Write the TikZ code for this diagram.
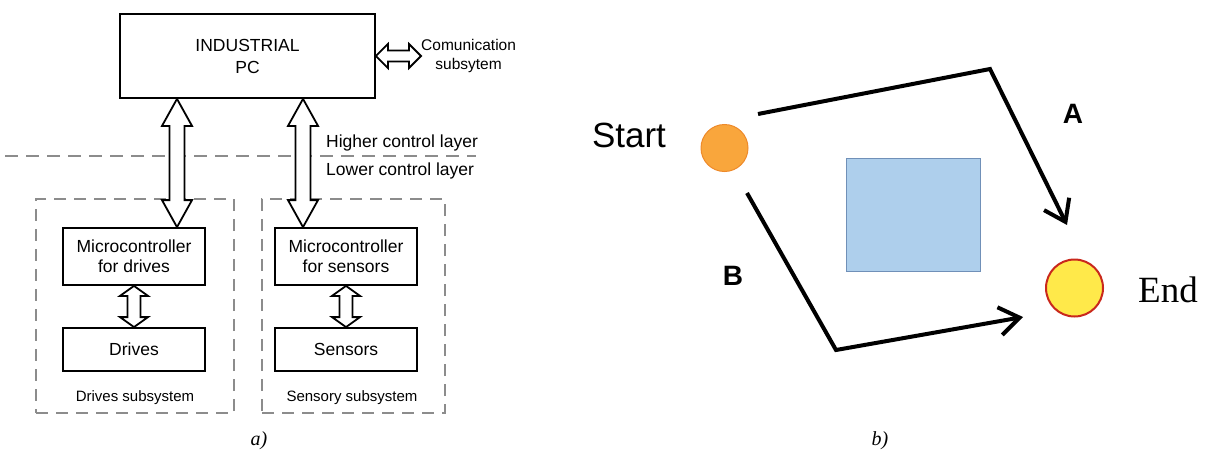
\documentclass[tikz,border=0pt]{standalone}
\usepackage{fontspec}
\setmainfont{Liberation Sans}
\newfontfamily\capfont{Liberation Serif}
\usetikzlibrary{calc,arrows.meta}

\definecolor{dashgray}{HTML}{8C8C8C}
\definecolor{startfill}{HTML}{F9A63C}
\definecolor{startdraw}{HTML}{EE8A2A}
\definecolor{endfill}{HTML}{FFE94A}
\definecolor{enddraw}{HTML}{C9281C}
\definecolor{obsfill}{HTML}{AECFEC}
\definecolor{obsdraw}{HTML}{7090B8}

% hollow double-headed block arrow, vertical: top point, bottom point,
% half shaft width, half head width, head length
\newcommand{\vblock}[5]{%
  \path[blockarrow] let \p1=(#1), \p2=(#2) in
    (\x1,\y1) -- ({\x1+#4},{\y1-#5}) -- ({\x1+#3},{\y1-#5})
    -- ({\x1+#3},{\y2+#5}) -- ({\x1+#4},{\y2+#5}) -- (\x1,\y2)
    -- ({\x1-#4},{\y2+#5}) -- ({\x1-#3},{\y2+#5})
    -- ({\x1-#3},{\y1-#5}) -- ({\x1-#4},{\y1-#5}) -- cycle;}
% the same, horizontal: left point, right point
\newcommand{\hblock}[5]{%
  \path[blockarrow] let \p1=(#1), \p2=(#2) in
    (\x1,\y1) -- ({\x1+#5},{\y1+#4}) -- ({\x1+#5},{\y1+#3})
    -- ({\x2-#5},{\y1+#3}) -- ({\x2-#5},{\y1+#4}) -- (\x2,\y1)
    -- ({\x2-#5},{\y1-#4}) -- ({\x2-#5},{\y1-#3})
    -- ({\x1+#5},{\y1-#3}) -- ({\x1+#5},{\y1-#4}) -- cycle;}

\tikzset{
  box/.style={draw, line width=1.8pt, minimum width=142pt, minimum height=57pt,
    inner sep=0pt, align=center, font=\fontsize{17.5}{20}\selectfont},
  subsys/.style={draw=dashgray, dash pattern=on 12pt off 8pt, line width=1.3pt,
    inner sep=0pt},
  blockarrow/.style={draw, line width=1.8pt, fill=white, line join=miter},
  plain/.style={inner sep=0pt, font=\fontsize{17.5}{20}\selectfont},
  small/.style={inner sep=0pt, font=\fontsize{15}{19}\selectfont, align=center},
  caption/.style={inner sep=0pt, font=\capfont\itshape\fontsize{20}{22}\selectfont},
  route/.style={line width=4pt, line join=miter,
    -{Straight Barb[length=20pt, width=28pt]}},
  spot/.style={circle, inner sep=0pt},
  bigsans/.style={inner sep=0pt, font=\fontsize{35}{40}\selectfont},
  bigbold/.style={inner sep=0pt, font=\bfseries\fontsize{28}{32}\selectfont}
}

\begin{document}
\begin{tikzpicture}[x=1pt, y=-1pt]
\useasboundingbox (0,0) rectangle (1205,450);

% ---------- control architecture ----------
\node[box, minimum width=255pt, minimum height=84pt,
      font=\fontsize{17.5}{22}\selectfont] (pc) at (247.5,56) {INDUSTRIAL\\PC};

\node[subsys, minimum width=198pt, minimum height=214pt] (dsub) at (135,306) {};
\node[subsys, minimum width=183pt, minimum height=214pt] (ssub) at (353.5,306) {};

\node[box] (mcd) at (134,256.5) {Microcontroller\\for drives};
\node[box, minimum height=43pt] (drv) at (134,349.5) {Drives};
\node[box] (mcs) at (346,256.5) {Microcontroller\\for sensors};
\node[box, minimum height=43pt] (sen) at (346,349.5) {Sensors};

\node[small] (dlab) at (135,398) {Drives subsystem};
\node[small] (slab) at (352,398) {Sensory subsystem};

% layer boundary
\coordinate (lay0) at (5,156);
\coordinate (lay1) at (476,156);
\draw[draw=dashgray, dash pattern=on 13pt off 8pt, line width=1.3pt] (lay0) -- (lay1);
\node[plain, anchor=west] (hi) at (326,143) {Higher control layer};
\node[plain, anchor=west] (lo) at (326,171) {Lower control layer};

% communication link
\node[small, anchor=west, font=\fontsize{15.5}{19}\selectfont] (comm) at (421,56)
  {Comunication\\subsytem};
\hblock{pc.east}{comm.west}{5.5pt}{12pt}{12pt}

% links between the layers
\coordinate (xd) at (177,0);
\coordinate (xs) at (303,0);
\vblock{xd |- pc.south}{xd |- mcd.north}{7.5pt}{15pt}{27pt}
\vblock{xs |- pc.south}{xs |- mcs.north}{7.5pt}{15pt}{27pt}

% links inside the subsystems
\vblock{mcd.south}{drv.north}{6.5pt}{14pt}{10pt}
\vblock{mcs.south}{sen.north}{6.5pt}{14pt}{10pt}

\node[caption] (capa) at (259,441) {a)};

% ---------- path planning ----------
\node[draw=obsdraw, fill=obsfill, line width=0.8pt, minimum width=134pt,
      minimum height=113pt, inner sep=0pt] (obs) at (913,214.5) {};
\node[spot, draw=startdraw, fill=startfill, line width=1pt, minimum size=47pt]
  (start) at (724.5,148) {};
\node[spot, draw=enddraw, fill=endfill, line width=2pt, minimum size=57pt]
  (end) at (1074.5,288) {};

\node[bigsans] (stxt) at (629,135) {Start};
\node[inner sep=0pt, anchor=west, font=\capfont\fontsize{37}{40}\selectfont]
  (etxt) at (1138,290) {End};

\coordinate (a0) at (758,114);
\coordinate (ac) at (990,69);
\coordinate (a1) at (1067,225);
\draw[route] (a0) -- (ac) -- (a1);
\node[bigbold] (alab) at (1073,114) {A};

\coordinate (b0) at (747,193);
\coordinate (bc) at (836,350);
\coordinate (b1) at (1023,317);
\draw[route] (b0) -- (bc) -- (b1);
\node[bigbold] (blab) at (733,276) {B};

\node[caption] (capb) at (880,441) {b)};
\end{tikzpicture}
\end{document}
